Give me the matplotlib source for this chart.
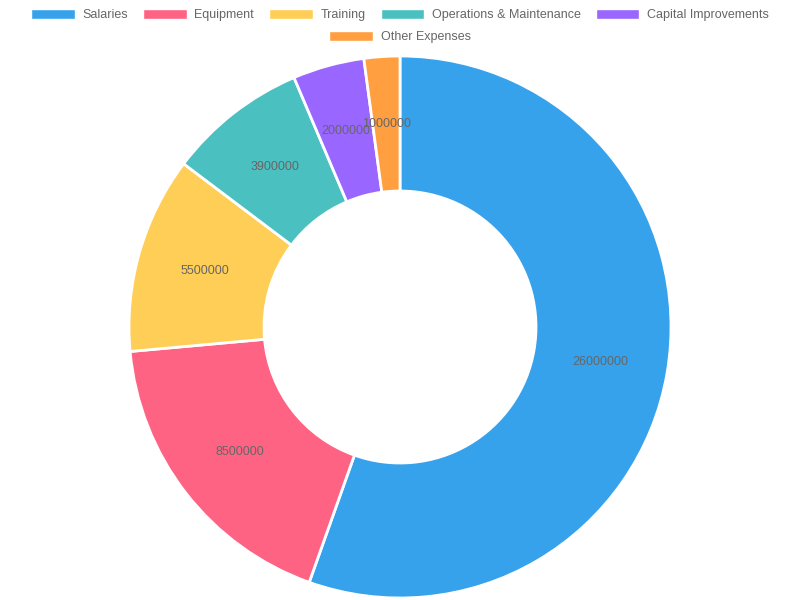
import matplotlib.pyplot as plt
from matplotlib.patches import Patch

plt.rcParams["font.family"] = ["Liberation Sans", "DejaVu Sans"]

categories = ["Salaries", "Equipment", "Training", "Operations & Maintenance",
              "Capital Improvements", "Other Expenses"]
values = [26000000, 8500000, 5500000, 3900000, 2000000, 1000000]
colors = ["#36A2EB", "#FF6384", "#FFCE56", "#4BC0C0", "#9966FF", "#FF9F40"]

fig = plt.figure(figsize=(8, 6), dpi=100)
ax = fig.add_axes([0, 0, 1, 1])

wedges, texts = ax.pie(
    values, colors=colors, startangle=90, counterclock=False,
    center=(400, 273), radius=271, labels=[str(v) for v in values],
    labeldistance=0.75, textprops=dict(fontsize=9, color="#666666", ha="center", va="center"),
    wedgeprops=dict(width=135, edgecolor="white", linewidth=2), frame=True,
)
ax.set_xlim(0, 800)
ax.set_ylim(0, 600)
ax.set_aspect("equal")
ax.axis("off")

handles = [Patch(facecolor=c, edgecolor="white") for c in colors]
common = dict(frameon=False, fontsize=9, labelcolor="#666666", handlelength=3.5,
              handleheight=0.9, handletextpad=0.6, columnspacing=1.2, borderaxespad=0)
fig.legend(handles[:5], categories[:5], loc="center", ncol=5,
           bbox_to_anchor=(0.5, 1 - 15 / 600), **common)
fig.legend(handles[5:], categories[5:], loc="center", ncol=1,
           bbox_to_anchor=(0.5, 1 - 37 / 600), **common)

fig.savefig("out.png", dpi=100)
